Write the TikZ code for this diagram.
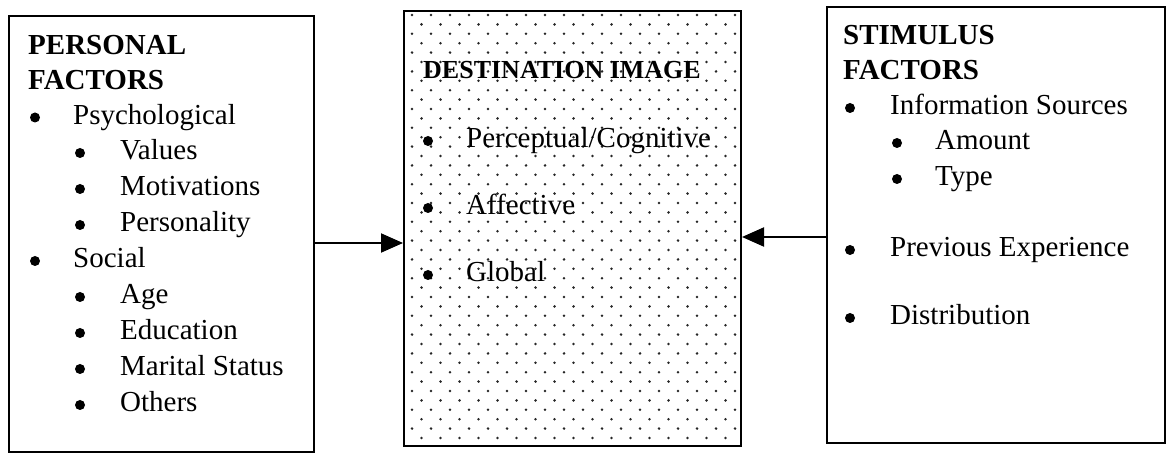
\documentclass[tikz,border=0pt]{standalone}
\usepackage{fontspec}
\setmainfont{Liberation Serif}
\usetikzlibrary{arrows.meta}
\begin{document}
\begin{tikzpicture}[x=1pt,y=-1pt,
  frame/.style={draw=black, line width=2pt, inner sep=0pt, anchor=north west},
  txt/.style={anchor=base west, inner sep=0pt, font=\fontsize{29}{34}\selectfont},
  head/.style={anchor=base west, inner sep=0pt, font=\fontsize{29}{34}\selectfont\bfseries},
  blt/.style={circle, fill=black, inner sep=0pt, minimum size=10pt},
  link/.style={-{Triangle[length=22pt,width=19pt]}, line width=2pt}]

% page area
\useasboundingbox (0,0) rectangle (1171,454);

% stippled fill of the central box
\foreach \j in {0,...,45}{
  \pgfmathtruncatemacro{\odd}{mod(\j,2)}
  \pgfmathtruncatemacro{\last}{17-\odd}
  \foreach \i in {0,...,\last}
    \fill[black!85] ({412+19*\i+9.5*\odd}, {15+9.4*\j}) circle (1.4pt);
}

% the three boxes
\node[frame, minimum width=305pt, minimum height=436pt] (pf) at (8,15) {};
\node[frame, minimum width=337pt, minimum height=435pt] (di) at (403,10) {};
\node[frame, minimum width=338pt, minimum height=436pt] (sf) at (826,6) {};

% personal factors
\node[head] (pfh1) at (28,55) {PERSONAL};
\node[head] (pfh2) at (28,89.5) {FACTORS};
\foreach \y/\t [count=\k] in {124.5/Psychological, 268/Social}{
  \node[blt] (pfb\k) at (35,\y-7) {};
  \node[txt] (pft\k) at (73,\y) {\t};
}
\foreach \y/\t [count=\k] in {160/Values, 196/Motivations, 232/Personality,
    304/Age, 340/Education, 376/Marital Status, 412/Others}{
  \node[blt] (pfs\k) at (80,\y-7) {};
  \node[txt] (pfu\k) at (120,\y) {\t};
}

% destination image
\node[anchor=base west, inner sep=0pt, font=\fontsize{26}{30}\selectfont\bfseries]
  (dih) at (423,79) {DESTINATION IMAGE};
\foreach \y/\t [count=\k] in {148/Perceptual\slash Cognitive, 215/Affective, 282/Global}{
  \node[blt] (dib\k) at (428,\y-7) {};
  \node[txt] (dit\k) at (466,\y) {\t};
}

% stimulus factors
\node[head] (sfh1) at (843,45) {STIMULUS};
\node[head] (sfh2) at (843,80) {FACTORS};
\foreach \y/\t [count=\k] in {115/Information Sources, 257/Previous Experience, 325/Distribution}{
  \node[blt] (sfb\k) at (850,\y-7) {};
  \node[txt] (sft\k) at (890,\y) {\t};
}
\foreach \y/\t [count=\k] in {150/Amount, 186/Type}{
  \node[blt] (sfs\k) at (897,\y-7) {};
  \node[txt] (sfu\k) at (935,\y) {\t};
}

% influences on the destination image
\coordinate (a1) at ([yshift=-9pt]pf.east);
\draw[link] (a1) -- (a1 -| di.west);
\coordinate (a2) at ([yshift=-12pt]sf.west);
\draw[link] (a2) -- (a2 -| di.east);
\end{tikzpicture}
\end{document}
